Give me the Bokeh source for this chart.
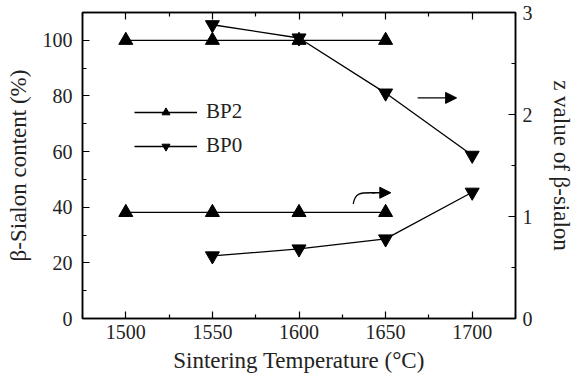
from bokeh.plotting import figure
from bokeh.models import (Range1d, LinearAxis, FixedTicker, Legend, LegendItem,
                          Arrow, NormalHead)
from bokeh.embed import file_html
from bokeh.resources import INLINE

# ---- data ----
temps_bp2 = [1500, 1550, 1600, 1650]
bp2_content = [100, 100, 100, 100]          # left axis (%)
bp2_z = [1.04, 1.04, 1.04, 1.04]            # right axis (z)

temps_bp0 = [1550, 1600, 1650, 1700]
bp0_z = [2.88, 2.75, 2.21, 1.60]            # right axis (z)
bp0_content = [22.5, 25.0, 28.6, 45.4]      # left axis (%)

x_ticks = [1500, 1550, 1600, 1650, 1700]
x_minor = [1475, 1525, 1575, 1625, 1675, 1725]
left_ticks = [0, 20, 40, 60, 80, 100]
left_minor = [10, 30, 50, 70, 90]
right_ticks = [0, 1, 2, 3]
right_minor = [0.5, 1.5, 2.5]

FONT = "Liberation Serif"

p = figure(width=576, height=383, output_backend="svg", toolbar_location=None,
           x_range=Range1d(1475, 1725), y_range=Range1d(0, 110),
           min_border_left=82, min_border_right=61, min_border_top=12,
           min_border_bottom=65, background_fill_color="white",
           border_fill_color="white")
p.extra_y_ranges = {"z": Range1d(0, 3)}
p.grid.visible = False
p.outline_line_color = "black"
p.outline_line_width = 1.5

def style(ax):
    ax.axis_line_width = 1.5
    ax.axis_line_color = "black"
    ax.major_tick_in = 7
    ax.major_tick_out = 0
    ax.minor_tick_in = 4
    ax.minor_tick_out = 0
    ax.major_tick_line_width = 1.2
    ax.minor_tick_line_width = 1.2
    ax.major_label_text_font = FONT
    ax.major_label_text_font_size = "20px"
    ax.major_label_text_color = "#222222"
    ax.axis_label_text_font = FONT
    ax.axis_label_text_font_style = "normal"
    ax.axis_label_text_font_size = "23px"
    ax.axis_label_text_color = "#222222"

xa = p.xaxis[0]
xa.ticker = FixedTicker(ticks=x_ticks, minor_ticks=x_minor)
xa.axis_label = "Sintering Temperature (°C)"
style(xa)
xa.major_label_standoff = 6
xa.axis_label_standoff = 6

ya = p.yaxis[0]
ya.ticker = FixedTicker(ticks=left_ticks, minor_ticks=left_minor)
ya.axis_label = "β-Sialon content (%)"
style(ya)
ya.major_label_standoff = 10
ya.axis_label_standoff = 9

ra = LinearAxis(y_range_name="z", axis_label="z value of β-sialon",
                ticker=FixedTicker(ticks=right_ticks, minor_ticks=right_minor))
style(ra)
ra.major_label_standoff = 7
ra.axis_label_standoff = 13
p.add_layout(ra, "right")

ta = LinearAxis(ticker=FixedTicker(ticks=x_ticks, minor_ticks=x_minor))
style(ta)
ta.major_label_text_font_size = "1px"
ta.major_label_text_color = None
ta.major_label_standoff = 0
p.add_layout(ta, "above")

# ---- series ----
l1 = p.line(temps_bp2, bp2_content, line_color="black", line_width=1.3)
s1 = p.scatter(temps_bp2, bp2_content, marker="triangle", size=14,
               fill_color="black", line_color="black")
l2 = p.line(temps_bp2, bp2_z, y_range_name="z", line_color="black", line_width=1.3)
s2 = p.scatter(temps_bp2, bp2_z, y_range_name="z", marker="triangle", size=14,
               fill_color="black", line_color="black")

l3 = p.line(temps_bp0, bp0_z, y_range_name="z", line_color="black", line_width=1.3)
s3 = p.scatter(temps_bp0, bp0_z, y_range_name="z", marker="inverted_triangle",
               size=14, fill_color="black", line_color="black")
l4 = p.line(temps_bp0, bp0_content, line_color="black", line_width=1.3)
s4 = p.scatter(temps_bp0, bp0_content, marker="inverted_triangle", size=14,
               fill_color="black", line_color="black")

# ---- annotations (arrows pointing to right axis) ----
p.add_layout(Arrow(end=NormalHead(size=11, fill_color="black", line_color="black"),
                   x_start=1668.5, y_start=79.3, x_end=1691, y_end=79.3,
                   line_color="black", line_width=1.3))
p.bezier(x0=[1631.3], y0=[41.2], x1=[1644], y1=[45.2],
         cx0=[1632.5], cy0=[45.6], cx1=[1636], cy1=[45.2],
         line_color="black", line_width=1.3)
p.add_layout(Arrow(end=NormalHead(size=11, fill_color="black", line_color="black"),
                   x_start=1642, y_start=45.2, x_end=1653, y_end=45.2,
                   line_color="black", line_width=1.3))

legend = Legend(items=[LegendItem(label="BP2", renderers=[l1, s1]),
                       LegendItem(label="BP0", renderers=[l3, s3])],
                location=(52, 160), orientation="vertical")
legend.label_text_font = FONT
legend.label_text_font_size = "21px"
legend.label_text_color = "#222222"
legend.glyph_width = 63
legend.glyph_height = 20
legend.label_height = 20
legend.spacing = 9
legend.label_standoff = 9
legend.padding = 0
legend.margin = 0
legend.border_line_color = None
legend.background_fill_alpha = 0
p.add_layout(legend)

open("out.html", "w").write(file_html(p, INLINE))
